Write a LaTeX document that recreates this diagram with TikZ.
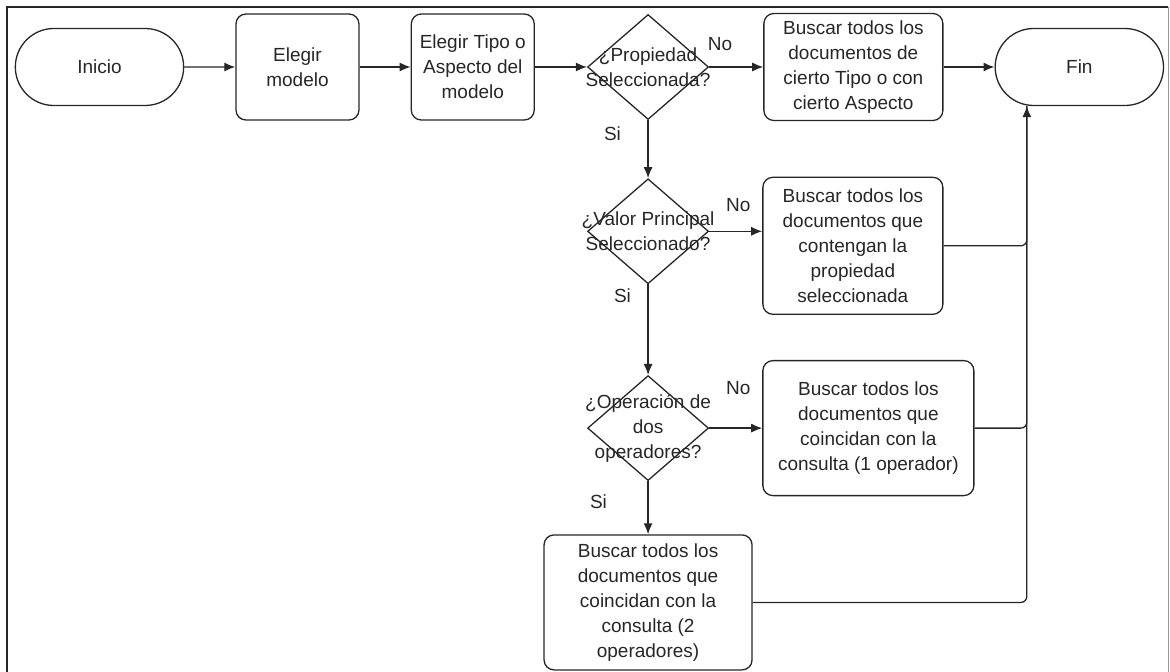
\documentclass[tikz,border=0pt]{standalone}
\usepackage{fontspec}
\setmainfont{Liberation Sans}
\usetikzlibrary{shapes,arrows.meta,positioning,calc}

\begin{document}
\begin{tikzpicture}[
    x=1pt, y=-1pt,
    font=\fontsize{19}{25}\selectfont,
    every node/.style={text=black!85},
    terminal/.style={draw=black!85, rounded rectangle, minimum width=175pt, minimum height=77pt, line width=1.3pt},
    block/.style={draw=black!85, rectangle, rounded corners=10pt, align=center, inner sep=0pt, line width=1.3pt},
    decision/.style={draw=black!85, diamond, minimum width=121pt, minimum height=105pt, inner sep=0pt, line width=1.3pt},
    lbl/.style={inner sep=1pt},
    arrow/.style={draw=black!85, line width=1.3pt, -{Latex[length=11pt,width=9pt]}},
    link/.style={draw=black!85, line width=1.3pt, rounded corners=6pt}
]
    \useasboundingbox (0,0) rectangle (1170,672);
    \draw[line width=2.5pt, black!85] (7,672) -- (7,7) -- (1168,7);
    \draw[line width=0.8pt, black!40] (1168,7) -- (1168,672);

    % Nodes
    \node[terminal] (inicio) at (99.5,67) {Inicio};
    \node[block, minimum width=123pt, minimum height=106pt, right=51pt of inicio] (modelo) {Elegir\\modelo};
    \node[block, minimum width=123pt, minimum height=106pt, right=51pt of modelo] (tipo) {Elegir Tipo o\\Aspecto del\\modelo};
    \node[decision, right=52pt of tipo, label={[align=center]center:{¿Propiedad\\Seleccionada?}}] (prop) {};
    \node[block, minimum width=179pt, minimum height=107pt, right=54pt of prop] (portipo) {Buscar todos los\\documentos de\\cierto Tipo o con\\cierto Aspecto};
    \node[terminal, right=51pt of portipo] (fin) {Fin};

    \node[decision, below=58pt of prop, label={[align=center]center:{¿Valor Principal\\Seleccionado?}}] (valor) {};
    \node[block, minimum width=180pt, minimum height=137pt, right=53pt of valor, yshift=-14.5pt] (porprop) {Buscar todos los\\documentos que\\contengan la\\propiedad\\seleccionada};

    \node[decision, below=90.5pt of valor, label={[align=center]center:{¿Operación de\\dos\\operadores?}}] (oper) {};
    \node[block, minimum width=211pt, minimum height=135pt, right=53pt of oper] (unop) {Buscar todos los\\documentos que\\coincidan con la\\consulta (1 operador)};
    \node[block, minimum width=208pt, minimum height=135pt, below=53pt of oper] (dosop) {Buscar todos los\\documentos que\\coincidan con la\\consulta (2\\operadores)};

    % Connections
    \path[arrow] (inicio) -- (modelo);
    \path[arrow] (modelo) -- (tipo);
    \path[arrow] (tipo) -- (prop);
    \path[arrow] (prop) -- node[lbl, above=15pt, pos=0.2] {No} (portipo);
    \path[arrow] (portipo) -- (fin);

    \path[arrow] (prop) -- node[lbl, left=25.5pt, pos=0.23] {Si} (valor);
    \path[arrow] (valor.east) -- node[lbl, above=18pt, pos=0.55] {No} (valor.east -| porprop.west);
    \path[arrow] (valor) -- node[lbl, left=15.5pt, pos=0.12] {Si} (oper);
    \path[arrow] (oper) -- node[lbl, above=32pt, pos=0.55] {No} (unop);
    \path[arrow] (oper) -- node[lbl, left=39.5pt, pos=0.38] {Si} (dosop);

    % all results go to Fin
    \coordinate (merge) at ($(fin.south)+(-52.5,0)$);
    \path[link] (porprop.east) -| (merge);
    \path[link] (unop.east) -| (merge);
    \path[arrow, rounded corners=6pt] (dosop.east) -| (merge);

\end{tikzpicture}
\end{document}
